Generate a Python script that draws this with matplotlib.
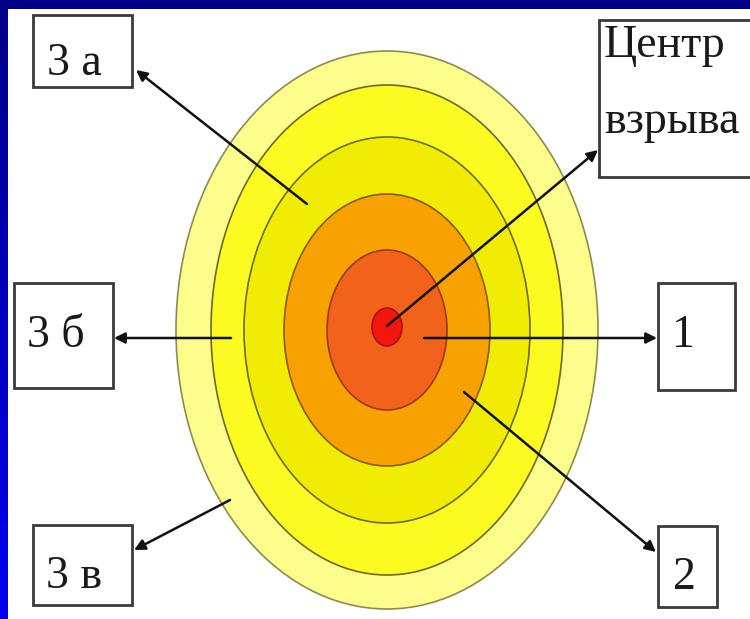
import numpy as np
import matplotlib
matplotlib.use("Agg")
import matplotlib.pyplot as plt
from matplotlib.patches import Ellipse, Rectangle
from matplotlib.colors import LinearSegmentedColormap

# zones of the blast, outermost first (half-width, half-height in px)
zone_rx = [211, 176, 143, 103, 60, 15]
zone_ry = [279, 245, 193, 136, 80, 19]
zone_colors = ["#fdfd8c", "#fbfb22", "#f0ec04", "#f8a202", "#f1631a", "#f2160f"]
zone_edges = ["#8c8c50", "#6e6a20", "#6e6a20", "#8a5a10", "#9a3a10", "#b01010"]

labels = ["3 а", "Центр\nвзрыва", "3 б", "1", "3 в", "2"]

# layout (px, y down)
centre = (387, 330)
boxes = [(33, 15, 132, 87), (599, 20, 752, 177), (14, 283, 113, 388),
         (658, 283, 735, 390), (33, 525, 132, 605), (658, 526, 717, 607)]
# baseline position of the first line of each label
text_pos = [(74, 75), (604, 57), (56, 347), (683, 347), (74, 588), (684, 589)]
line_step = 76
arrows = [((307, 204), (136, 70)), ((387, 326), (598, 150)),
          ((231, 338), (114, 338)), ((424, 338), (657, 338)),
          ((230, 500), (134, 550)), ((464, 392), (656, 552))]

fig = plt.figure(figsize=(7.5, 6.19), dpi=100)
fig.patch.set_facecolor("white")
ax = fig.add_axes([0, 0, 1, 1])
ax.set_xlim(0, 750)
ax.set_ylim(619, 0)
ax.axis("off")

for rx, ry, c, e in zip(zone_rx, zone_ry, zone_colors, zone_edges):
    cy = centre[1] if rx > 20 else 327
    ax.add_patch(Ellipse((centre[0], cy), 2 * rx, 2 * ry, facecolor=c,
                         edgecolor=e, lw=1.2, zorder=2))

for (x0, y0, x1, y1) in boxes:
    ax.add_patch(Rectangle((x0, y0), x1 - x0, y1 - y0, facecolor="white",
                           edgecolor="#3a3a3a", lw=2.0, zorder=3))

for lab, (tx, ty) in zip(labels, text_pos):
    lines = lab.split("\n")
    if len(lines) > 1:
        for i, ln in enumerate(lines):
            ax.text(tx, ty + i * line_step, ln, ha="left", va="baseline",
                    fontsize=33, family="Liberation Serif", color="#1a1a1a",
                    zorder=4)
    else:
        ax.text(tx, ty, lab, ha="center", va="baseline", fontsize=33,
                family="Liberation Serif", color="#1a1a1a", zorder=4)

for (tail, head) in arrows:
    ax.annotate("", xy=head, xytext=tail,
                arrowprops=dict(arrowstyle="-|>", color="#111111", lw=1.8,
                                mutation_scale=16, shrinkA=0, shrinkB=0),
                zorder=5)

# blue frame: dark top band, left band fading to bright blue
top = fig.add_axes([0, 1 - 9 / 619, 1, 9 / 619])
top.set_facecolor("#000088")
top.set_xticks([]); top.set_yticks([])
for s in top.spines.values():
    s.set_visible(False)
left = fig.add_axes([0, 0, 7 / 750, 1])
grad = np.linspace(0, 1, 256).reshape(-1, 1)
cmap = LinearSegmentedColormap.from_list("frame", ["#000088", "#0000f0"])
left.imshow(grad, aspect="auto", cmap=cmap)
left.axis("off")

fig.savefig("out.png", dpi=100)
